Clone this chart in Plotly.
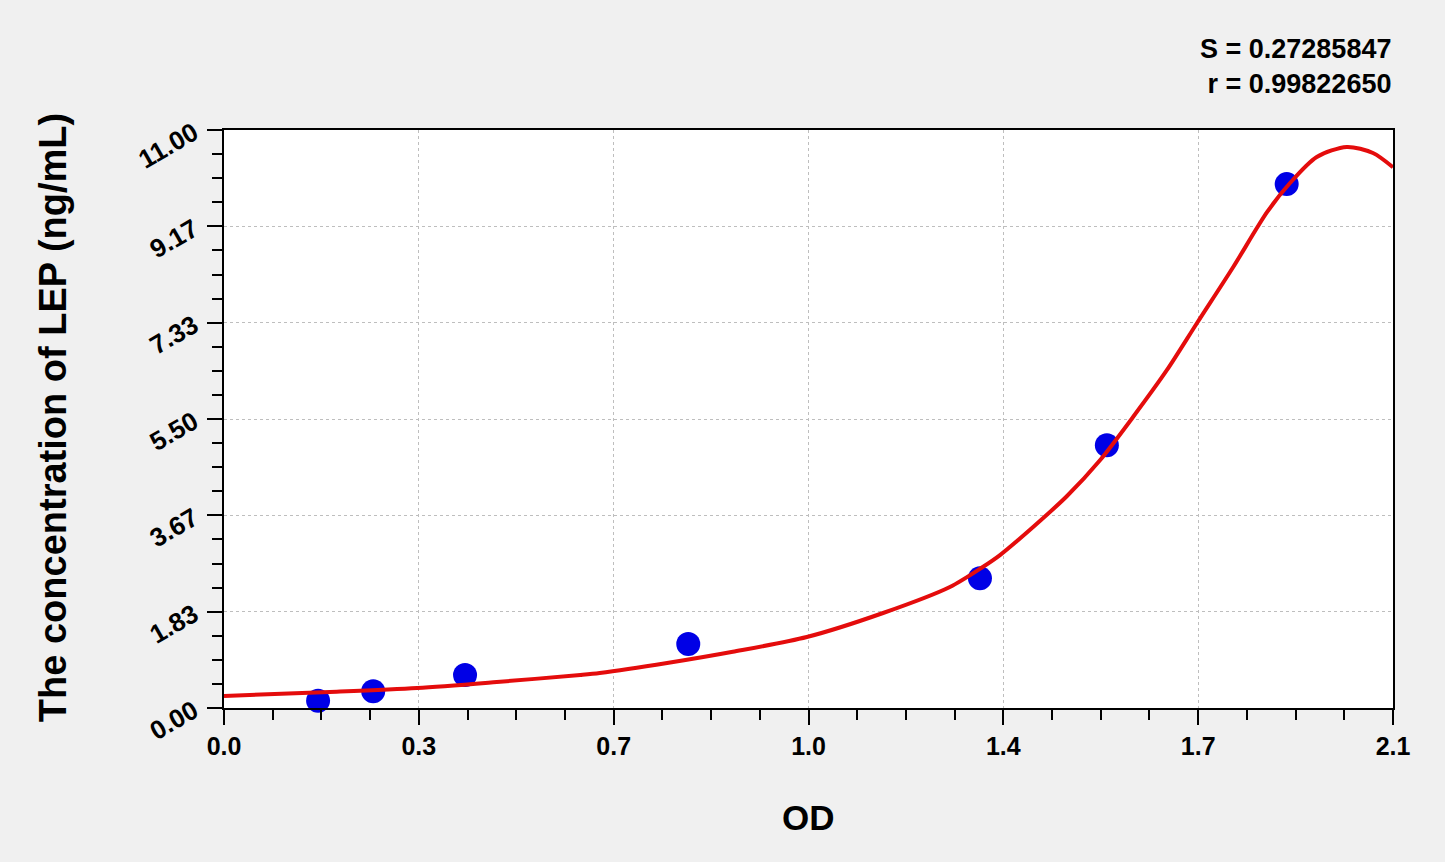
import plotly.graph_objects as go

# measured standards
od_points = [0.169, 0.268, 0.433, 0.834, 1.358, 1.586, 1.909]
conc_points = [0.14, 0.32, 0.63, 1.22, 2.47, 5.00, 9.97]

# fitted curve
od_curve = [0.0, 0.190, 0.347, 0.490, 0.640, 0.675, 0.796, 0.914, 1.047, 1.184,
            1.304, 1.363, 1.394, 1.453, 1.514, 1.574, 1.633, 1.694, 1.748, 1.813,
            1.874, 1.915, 1.963, 2.017, 2.064, 2.1]
conc_curve = [0.228, 0.305, 0.381, 0.495, 0.628, 0.666, 0.856, 1.07, 1.351, 1.808,
              2.303, 2.683, 2.910, 3.440, 4.030, 4.720, 5.538, 6.433, 7.327, 8.393,
              9.440, 9.991, 10.486, 10.677, 10.562, 10.29]

x_tickvals = [0.0, 0.35, 0.7, 1.05, 1.4, 1.75, 2.1]
x_ticktext = ["0.0", "0.3", "0.7", "1.0", "1.4", "1.7", "2.1"]
y_tickvals = [0.0, 11 / 6, 22 / 6, 33 / 6, 44 / 6, 55 / 6, 11.0]
y_ticktext = ["0.00", "1.83", "3.67", "5.50", "7.33", "9.17", "11.00"]

stat_lines = ["S = 0.27285847", "r = 0.99822650"]

FONT = "Liberation Sans, Arial, sans-serif"

fig = go.Figure()
fig.add_trace(go.Scatter(x=od_points, y=conc_points,
                         mode='markers',
                         marker=dict(size=24, color='rgb(0,0,230)'),
                         cliponaxis=False))
fig.add_trace(go.Scatter(x=od_curve, y=conc_curve,
                         mode='lines',
                         line=dict(color='rgb(228,12,12)', width=4, shape='spline', smoothing=0.8)))

axis_common = dict(showline=True, linecolor='black', linewidth=2, mirror=True,
                   ticks='outside', ticklen=15, tickwidth=2, tickcolor='black',
                   showgrid=True, gridcolor='rgb(190,190,190)', griddash='dot', gridwidth=1,
                   zeroline=False)

fig.update_xaxes(range=[0, 2.1], tickmode='array', tickvals=x_tickvals, ticktext=x_ticktext,
                 tickfont=dict(family=FONT, size=25, color='black', weight='bold'),
                 minor=dict(tickmode='linear', tick0=0, dtick=0.0875, ticks='outside',
                            ticklen=10, tickwidth=2, tickcolor='black', showgrid=False),
                 **axis_common)
fig.update_yaxes(range=[0, 11], tickmode='array', tickvals=y_tickvals, ticktext=y_ticktext,
                 tickangle=-30, ticklabelstandoff=8,
                 tickfont=dict(family=FONT, size=26, color='black', weight='bold'),
                 minor=dict(tickmode='linear', tick0=0, dtick=11 / 24, ticks='outside',
                            ticklen=10, tickwidth=2, tickcolor='black', showgrid=False),
                 **axis_common)

annotations = [
    dict(text="<b>OD</b>", x=0.5, y=-0.19, xref='paper', yref='paper',
         xanchor='center', yanchor='middle', showarrow=False,
         font=dict(family=FONT, size=35, color='black')),
    dict(text="<b>The concentration of LEP (ng/mL)</b>", x=-0.146, y=0.502,
         xref='paper', yref='paper', textangle=-90,
         xanchor='center', yanchor='middle', showarrow=False,
         font=dict(family=FONT, size=38, color='black')),
    dict(text="<b>" + "<br>".join(stat_lines) + "</b>", x=1.0, y=1.05,
         xref='paper', yref='paper', xanchor='right', yanchor='bottom', align='right',
         showarrow=False, font=dict(family=FONT, size=27, color='black')),
]

fig.update_layout(width=1445, height=862,
                  margin=dict(l=224, r=52, t=130, b=154),
                  paper_bgcolor='rgb(240,240,240)',
                  plot_bgcolor='white',
                  showlegend=False,
                  annotations=annotations)

fig.write_html("out.html", config={'displayModeBar': False},
               post_script="document.body.style.margin='0';")
